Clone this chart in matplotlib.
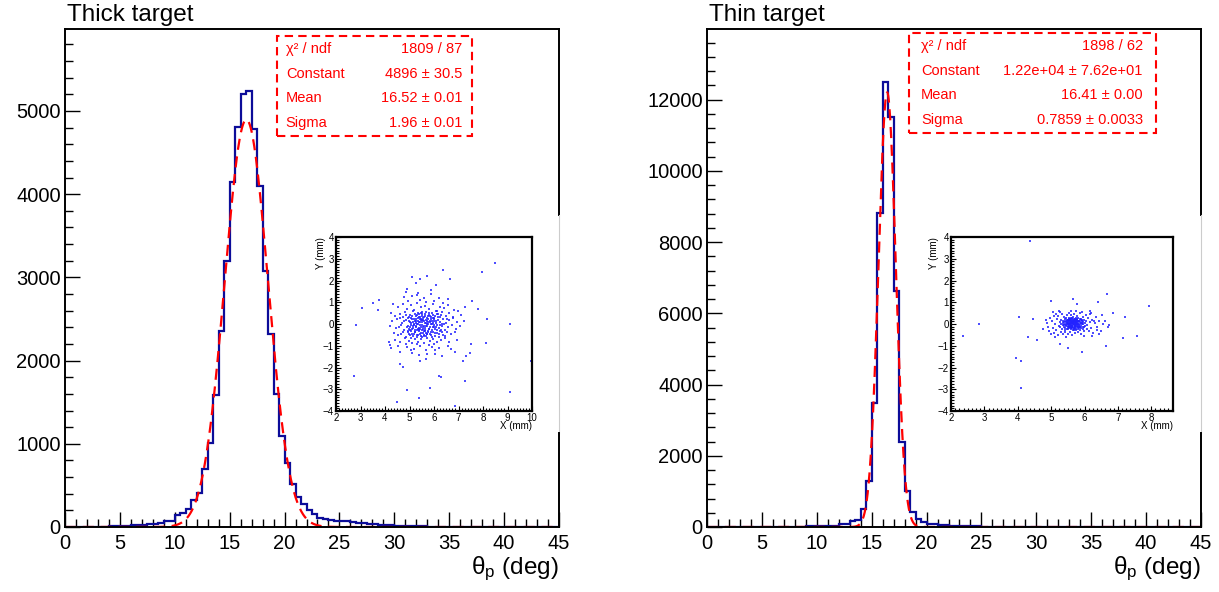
import matplotlib
matplotlib.use('Agg')
import matplotlib.pyplot as plt
import numpy as np
from matplotlib.patches import Rectangle
from matplotlib.ticker import MultipleLocator

plt.rcParams['font.family'] = ['Liberation Sans', 'DejaVu Sans']
plt.rcParams['mathtext.fontset'] = 'custom'
plt.rcParams['mathtext.rm'] = 'Liberation Sans'
plt.rcParams['mathtext.it'] = 'Liberation Sans'

# theta_p histograms, 0.5 deg bins from 0 to 45
edges = np.arange(0, 45.5, 0.5)
thick_counts = [0, 0, 1, 1, 2, 3, 5, 6, 8, 10,
                14, 18, 22, 26, 30, 35, 40, 46, 72, 72,
                145, 173, 217, 325, 414, 695, 1008, 1590, 2353, 3197,
                4149, 4803, 5205, 5245, 4783, 4100, 3076, 2321, 1598, 1088,
                775, 518, 365, 273, 205, 157, 108, 100, 82, 78,
                74, 70, 58, 52, 45, 40, 34, 30, 25, 22,
                18, 15, 12, 10, 8, 7, 5, 4, 3, 3,
                2, 2, 1, 1, 1, 1, 0, 1, 0, 0,
                0, 0, 0, 0, 0, 0, 0, 0, 0, 0]
thin_counts = [0, 0, 0, 0, 0, 1, 1, 1, 2, 2,
               3, 3, 4, 5, 6, 8, 10, 12, 15, 20,
               25, 30, 36, 42, 90, 98, 169, 197, 507, 1295,
               3480, 8809, 12486, 11510, 6632, 2392, 1013, 432, 225, 131,
               90, 80, 60, 50, 40, 35, 28, 22, 18, 15,
               12, 10, 8, 7, 6, 5, 4, 3, 3, 2,
               2, 2, 1, 1, 1, 1, 0, 0, 1, 0,
               0, 0, 0, 0, 0, 0, 0, 0, 0, 0,
               0, 0, 0, 0, 0, 0, 0, 0, 0, 0]

# gaussian fit results
thick_fit = (4896, 16.52, 1.96)
thin_fit = (12200, 16.41, 0.7859)
thick_stats = [("χ² / ndf", "1809 / 87"), ("Constant", "4896 ± 30.5"),
               ("Mean", "16.52 ± 0.01"), ("Sigma", "1.96 ± 0.01")]
thin_stats = [("χ² / ndf", "1898 / 62"), ("Constant", "1.22e+04 ± 7.62e+01"),
              ("Mean", "16.41 ± 0.00"), ("Sigma", "0.7859 ± 0.0033")]

# beam spot X/Y (mm)
thick_xy = [
    (8.48, 2.81), (7.94, 2.38), (6.35, 2.48), (6.67, 2.09), (5.73, 2.22), (5.09, 2.16), (5.41, 2.06),
    (5.25, 1.88), (6.07, 1.79), (4.91, 1.59), (4.84, 1.48), (5.36, 1.42), (5.86, 1.55), (3.06, 0.72),
    (3.52, 0.97), (3.77, 1.09), (3.73, 0.65), (4.33, 0.92), (2.82, -0.04), (7.54, 1.07), (7.27, 0.80),
    (7.80, 0.69), (8.16, 0.22), (9.10, -0.02), (8.14, -0.88), (7.53, -0.91), (7.45, -1.34), (7.30, -1.49),
    (7.17, -1.72), (9.96, -1.69), (6.19, -2.40), (6.27, -2.43), (2.75, -2.37), (7.26, -2.60), (5.84, -2.94),
    (4.91, -3.03), (9.09, -3.12), (5.39, -3.41), (4.47, -3.58), (6.85, -3.79), (4.63, -1.85), (4.73, -1.96),
    (4.17, -0.83), (4.20, -0.98), (4.24, -1.12), (4.61, -1.30), (5.10, -1.34), (5.40, -1.44), (5.70, -1.38),
    (6.03, -1.37), (6.31, -1.49), (6.87, -1.27), (6.68, -1.15), (5.41, -1.72), (5.67, -1.63),
    (4.72, 0.93), (5.05, 0.88), (5.31, 0.97), (5.62, 0.84), (5.95, 0.91), (6.25, 0.78), (6.58, 0.86),
    (4.88, 0.71), (5.18, 0.66), (5.46, 0.77), (5.78, 0.69), (6.08, 0.62), (6.41, 0.72), (6.83, 0.65),
    (4.55, 0.79), (5.69, 1.02), (6.02, 1.05), (5.41, 1.12), (4.95, 1.08), (6.35, 0.98),
    (4.62, 0.48), (4.83, 0.55), (5.02, 0.43), (5.14, 0.58), (5.27, 0.36), (5.36, 0.51), (5.49, 0.44),
    (5.58, 0.32), (5.66, 0.57), (5.81, 0.41), (5.93, 0.52), (6.06, 0.35), (6.18, 0.47), (6.33, 0.56),
    (6.47, 0.38), (6.62, 0.49), (6.79, 0.33), (6.97, 0.58), (4.41, 0.37), (4.97, 0.31), (5.22, 0.47),
    (5.53, 0.55), (5.74, 0.39), (6.11, 0.59), (6.26, 0.31), (4.74, 0.34), (5.43, 0.34), (5.88, 0.33),
    (7.12, 0.42), (4.25, 0.52),
    (4.28, 0.12), (4.51, 0.22), (4.69, 0.05), (4.84, 0.18), (4.93, 0.27), (5.03, 0.09), (5.11, 0.21),
    (5.19, 0.02), (5.26, 0.16), (5.33, 0.26), (5.39, 0.07), (5.45, 0.19), (5.52, 0.11), (5.57, 0.28),
    (5.63, 0.04), (5.69, 0.17), (5.76, 0.24), (5.83, 0.08), (5.91, 0.15), (5.99, 0.27), (6.07, 0.03),
    (6.15, 0.19), (6.24, 0.11), (6.36, 0.23), (6.48, 0.06), (6.61, 0.17), (6.77, 0.26), (6.93, 0.09),
    (7.21, 0.14), (4.62, 0.28), (5.08, 0.29), (5.29, 0.01), (5.48, 0.25), (5.61, 0.14), (5.72, 0.02),
    (5.87, 0.21), (6.02, 0.12), (6.31, 0.02), (5.22, 0.13), (5.42, 0.22), (4.76, 0.14), (6.55, 0.25),
    (5.15, 0.08), (5.95, 0.06), (5.35, 0.14),
    (4.21, -0.08), (4.46, -0.19), (4.66, -0.04), (4.78, -0.26), (4.89, -0.12), (4.99, -0.22), (5.06, -0.03),
    (5.13, -0.17), (5.21, -0.27), (5.28, -0.09), (5.34, -0.21), (5.41, -0.05), (5.47, -0.14), (5.53, -0.28),
    (5.59, -0.07), (5.65, -0.19), (5.71, -0.11), (5.78, -0.25), (5.86, -0.02), (5.94, -0.16), (6.03, -0.24),
    (6.11, -0.06), (6.21, -0.18), (6.32, -0.09), (6.45, -0.27), (6.58, -0.13), (6.74, -0.04), (6.88, -0.21),
    (7.08, -0.11), (4.58, -0.15), (5.02, -0.29), (5.18, -0.06), (5.37, -0.29), (5.56, -0.16), (5.74, -0.01),
    (5.91, -0.29), (6.07, -0.14), (6.27, -0.28), (5.25, -0.13), (5.44, -0.23), (5.63, -0.26), (5.82, -0.12),
    (4.95, -0.07), (6.39, -0.02), (5.12, -0.24),
    (4.36, -0.41), (4.55, -0.52), (4.73, -0.36), (4.86, -0.58), (4.97, -0.44), (5.08, -0.33), (5.16, -0.55),
    (5.24, -0.39), (5.31, -0.49), (5.39, -0.34), (5.46, -0.57), (5.54, -0.42), (5.62, -0.31), (5.69, -0.53),
    (5.77, -0.38), (5.85, -0.47), (5.96, -0.35), (6.05, -0.56), (6.14, -0.43), (6.26, -0.33), (6.37, -0.51),
    (6.52, -0.39), (6.68, -0.48), (6.86, -0.36), (4.66, -0.46), (5.02, -0.51), (5.29, -0.59), (5.58, -0.49),
    (5.92, -0.58), (6.19, -0.59), (5.43, -0.45), (5.73, -0.44), (6.44, -0.57), (4.92, -0.33), (5.12, -0.45),
    (4.42, -0.72), (4.63, -0.84), (4.81, -0.66), (4.99, -0.78), (5.11, -0.89), (5.23, -0.68), (5.35, -0.81),
    (5.47, -0.71), (5.59, -0.87), (5.71, -0.64), (5.84, -0.79), (5.97, -0.69), (6.12, -0.85), (6.28, -0.74),
    (6.46, -0.66), (6.63, -0.82), (6.92, -0.73), (5.05, -0.63), (5.52, -0.61), (6.02, -0.91), (5.29, -0.93),
    (5.78, -0.95), (4.87, -0.91),
    (4.52, -1.02), (4.91, -1.08), (5.18, -1.14), (5.44, -1.03), (5.66, -1.18), (5.93, -1.06), (6.22, -1.12),
    (6.58, -1.01), (5.05, -1.19), (6.05, -1.21),
    (5.12, 1.28), (5.58, 1.21), (5.89, 1.36), (6.21, 1.19), (4.79, 1.22), (6.58, 1.16), (5.32, 1.35),
    (5.05, 0.05), (5.14, -0.10), (5.20, 0.25), (5.24, -0.35), (5.30, 0.42), (5.33, -0.02), (5.37, 0.31),
    (5.40, -0.18), (5.44, 0.08), (5.47, -0.40), (5.50, 0.35), (5.53, -0.06), (5.56, 0.18), (5.60, -0.33),
    (5.64, 0.45), (5.67, -0.10), (5.70, 0.28), (5.73, -0.47), (5.77, 0.10), (5.80, -0.22), (5.84, 0.36),
    (5.87, -0.36), (5.90, 0.02), (5.94, 0.40), (5.98, -0.12), (6.01, 0.22), (6.05, -0.42), (6.09, 0.12),
    (6.13, -0.28), (6.17, 0.32), (6.23, -0.03), (6.29, 0.40), (6.34, -0.36), (5.10, 0.38), (5.17, -0.44),
    (5.27, 0.05), (5.36, -0.52), (5.46, 0.50), (5.58, -0.55), (5.68, 0.05), (5.79, 0.52), (5.89, -0.50),
    (6.00, -0.03), (6.12, 0.47), (4.98, 0.15), (4.92, -0.38), (4.86, 0.40), (5.02, -0.15), (5.31, -0.27),
    (5.51, 0.20), (5.62, 0.38), (5.75, -0.30), (5.96, 0.28), (6.20, -0.48), (5.39, 0.46), (5.66, -0.42),
    (5.85, 0.15), (5.54, -0.22), (5.28, 0.22), (5.71, 0.16),
]
thin_xy = [
    (4.38, 3.83), (5.66, 1.15), (5.01, 1.06), (6.66, 1.38), (6.40, 1.01), (5.76, 0.92), (7.93, 0.83),
    (2.83, -0.02), (2.35, -0.54), (4.04, 0.31), (4.45, 0.23), (4.32, -0.60), (4.58, -0.74), (5.26, -0.94),
    (5.51, -1.12), (5.91, -1.30), (6.63, -1.00), (7.20, 0.30), (7.16, -0.66), (7.58, -0.57), (6.85, 0.52),
    (6.73, -0.04), (6.69, -0.15), (3.95, -1.56), (4.11, -1.72), (4.11, -2.95), (6.51, 0.42), (6.27, 0.14),
    (6.37, -0.27), (6.21, -0.57), (6.16, 0.59), (5.91, 0.57), (4.77, -0.24), (4.87, 0.05), (4.94, -0.30),
    (5.30, 0.02), (5.35, 0.15), (5.38, -0.12), (5.41, 0.24), (5.43, -0.05), (5.45, 0.09), (5.47, -0.21),
    (5.49, 0.18), (5.51, 0.01), (5.52, -0.14), (5.54, 0.27), (5.55, 0.06), (5.57, -0.08), (5.58, 0.13),
    (5.59, -0.25), (5.61, 0.03), (5.62, 0.21), (5.63, -0.11), (5.64, 0.08), (5.66, -0.02), (5.67, 0.16),
    (5.68, -0.18), (5.69, 0.04), (5.71, 0.25), (5.72, -0.07), (5.73, 0.11), (5.75, -0.22), (5.76, 0.01),
    (5.78, 0.17), (5.79, -0.12), (5.81, 0.07), (5.83, -0.03), (5.85, 0.22), (5.86, -0.16), (5.88, 0.05),
    (5.90, -0.09), (5.92, 0.14), (5.94, -0.24), (5.96, 0.02), (5.98, 0.19), (5.33, -0.22), (5.36, 0.06),
    (5.40, -0.29), (5.44, 0.29), (5.48, -0.01), (5.50, 0.11), (5.53, -0.19), (5.56, 0.19), (5.60, -0.04),
    (5.63, 0.27), (5.65, -0.27), (5.68, 0.09), (5.70, -0.13), (5.74, 0.05), (5.77, -0.05), (5.80, 0.28),
    (5.82, -0.20), (5.84, 0.12), (5.87, -0.27), (5.89, 0.24), (5.91, -0.01), (5.95, 0.09), (5.97, -0.15),
    (6.00, 0.04), (6.02, -0.08), (5.46, 0.14), (5.52, 0.23), (5.58, -0.16), (5.61, 0.10), (5.64, -0.06),
    (5.66, 0.30), (5.70, 0.14), (5.73, -0.29), (5.76, 0.20), (5.79, 0.02), (5.55, -0.02), (5.59, 0.06),
    (5.62, -0.13), (5.67, 0.02), (5.71, -0.03), (5.74, 0.17), (5.39, 0.11), (5.42, -0.17), (5.51, -0.09),
    (5.57, 0.16), (5.69, -0.23), (5.78, -0.14), (5.85, 0.00), (5.93, 0.18), (5.36, -0.04), (5.31, 0.20),
    (5.28, -0.15), (5.26, 0.09), (6.04, 0.13), (6.06, -0.21), (5.60, 0.26), (5.65, 0.12), (5.72, 0.07),
    (5.54, 0.00), (5.49, 0.04),
    (5.02, 0.12), (5.05, -0.18), (5.08, 0.35), (5.10, -0.41), (5.12, 0.02), (5.14, 0.46), (5.16, -0.28),
    (5.18, 0.21), (5.20, -0.52), (5.22, 0.38), (5.24, -0.07), (5.27, 0.55), (5.29, -0.37), (5.32, 0.44),
    (5.34, -0.47), (5.37, 0.33), (5.40, -0.39), (5.46, 0.43), (5.50, -0.44), (5.53, 0.51), (5.56, -0.36),
    (5.60, 0.40), (5.63, -0.49), (5.68, 0.47), (5.72, -0.41), (5.77, 0.36), (5.81, -0.38), (5.86, 0.49),
    (5.90, -0.46), (5.95, 0.34), (5.99, -0.33), (6.03, 0.41), (6.08, -0.05), (6.10, 0.27), (6.12, -0.31),
    (6.15, 0.09), (6.18, -0.17), (6.22, 0.18), (6.26, -0.42), (6.30, 0.06), (6.34, 0.31), (6.38, -0.12),
    (6.44, 0.14), (6.49, -0.34), (6.55, 0.02), (5.00, -0.45), (4.98, 0.28), (5.06, 0.55), (5.25, 0.60),
    (5.44, -0.58), (5.75, 0.58), (5.97, -0.56), (6.20, 0.51), (5.13, -0.60), (6.15, 0.48), (4.90, -0.12),
    (4.85, 0.18), (6.60, 0.15), (6.42, -0.46), (5.58, 0.62),
    (5.42, 0.02), (5.44, -0.10), (5.46, 0.20), (5.50, -0.25), (5.53, 0.12), (5.56, -0.12), (5.58, 0.24),
    (5.60, -0.20), (5.62, 0.05), (5.64, 0.18), (5.66, -0.14), (5.68, 0.25), (5.70, 0.00), (5.72, -0.18),
    (5.74, 0.28), (5.76, -0.10), (5.78, 0.08), (5.80, -0.24), (5.82, 0.16), (5.84, -0.08), (5.86, 0.10),
    (5.88, -0.18), (5.90, 0.20), (5.65, 0.04), (5.61, -0.08), (5.57, 0.03), (5.69, 0.12), (5.73, -0.02),
    (5.53, 0.18), (5.49, -0.16), (5.47, 0.06), (5.59, 0.15), (5.63, -0.20), (5.77, 0.22), (5.81, 0.00),
    (5.71, 0.20), (5.67, -0.26), (5.55, 0.22), (5.83, -0.16), (5.40, 0.16), (5.38, -0.06), (5.92, 0.05),
    (5.94, -0.12), (5.62, 0.12), (5.66, 0.08), (5.70, -0.08), (5.58, -0.04), (5.74, 0.10), (5.52, -0.04),
    (5.80, 0.12),
]

W, H = 1219, 592
fig = plt.figure(figsize=(W / 100, H / 100), dpi=100)

BLUE = '#0c0c99'
RED = '#ff0000'


def fpos(x0, y0, x1, y1):
    # pixel box -> figure fraction
    return [x0 / W, 1 - y1 / H, (x1 - x0) / W, (y1 - y0) / H]


def panel(left_px, counts, fit, ymax, ymajor, yminor, title, stats, box, rows, xy, inset_px, inset_xmax):
    ax = fig.add_axes(fpos(left_px, 29, left_px + 494, 527))
    ax.stairs(counts, edges, color=BLUE, lw=1.6, zorder=2.2)
    xs = np.linspace(0, 45, 2000)
    A, mu, sg = fit
    ax.plot(xs, A * np.exp(-0.5 * ((xs - mu) / sg) ** 2), color=RED, lw=1.6,
            ls=(0, (5, 3)), zorder=2.3)
    ax.set_xlim(0, 45)
    ax.set_ylim(0, ymax)
    ax.xaxis.set_major_locator(MultipleLocator(5))
    ax.xaxis.set_minor_locator(MultipleLocator(1))
    ax.yaxis.set_major_locator(MultipleLocator(ymajor))
    ax.yaxis.set_minor_locator(MultipleLocator(yminor))
    ax.tick_params(which='both', direction='in', top=False, right=False, width=1.0, labelsize=14.5)
    ax.tick_params(which='major', length=11)
    ax.tick_params(which='minor', length=5.5)
    ax.tick_params(axis='x', pad=5)
    ax.tick_params(axis='y', pad=3)
    for s in ['left', 'bottom', 'top']:
        ax.spines[s].set_linewidth(1.4)
    ax.spines['right'].set_visible(False)
    # right frame edge, partly hidden behind the inset pad
    ax.plot([1, 1], [1, 0.6265], transform=ax.transAxes, color='black', lw=1.4, clip_on=False, zorder=6)
    ax.plot([1, 1], [0.6265, 0.1888], transform=ax.transAxes, color='#cccccc', lw=0.8, clip_on=False, zorder=6)
    ax.plot([1, 1], [0.1888, 0], transform=ax.transAxes, color='black', lw=1.4, clip_on=False, zorder=6)

    ax.set_xlabel(r'θ$_{\mathregular{p}}$ (deg)', fontsize=17.5, ha='right', va='baseline')
    ax.xaxis.set_label_coords(1.0, -0.094)
    fig.text((left_px + 2) / W, 1 - 21 / H, title, fontsize=17.5, ha='left', va='baseline')

    # fit statistics box
    bx0, by0, bx1, by1 = box
    ax.add_patch(Rectangle((bx0, by0), bx1 - bx0, by1 - by0, transform=ax.transAxes,
                           facecolor='white', edgecolor=RED, lw=1.5, ls=(0, (4, 2.5)),
                           zorder=7, clip_on=False))
    lx, rx, ytop, dy = rows
    for i, (name, val) in enumerate(stats):
        yy = ytop - i * dy
        ax.text(lx, yy, name, transform=ax.transAxes, color=RED, fontsize=10.5,
                ha='left', va='center', zorder=8)
        ax.text(rx, yy, val, transform=ax.transAxes, color=RED, fontsize=10.5,
                ha='right', va='center', zorder=8)

    # beam spot inset
    ins = fig.add_axes(fpos(*inset_px))
    ins.set_zorder(10)
    px, py = zip(*xy)
    ins.scatter(px, py, s=2.0, marker='s', color='#2222ff', linewidths=0, alpha=0.8)
    ins.set_xlim(2, inset_xmax)
    ins.set_ylim(-4, 4)
    ins.xaxis.set_major_locator(MultipleLocator(1))
    ins.xaxis.set_minor_locator(MultipleLocator(0.125))
    ins.yaxis.set_major_locator(MultipleLocator(1))
    ins.yaxis.set_minor_locator(MultipleLocator(0.125))
    ins.tick_params(which='both', direction='in', top=False, right=False, width=0.8, labelsize=7)
    ins.tick_params(which='major', length=3.5, pad=1.5)
    ins.tick_params(which='minor', length=2)
    for s in ins.spines.values():
        s.set_linewidth(1.6)
    ins.set_xlabel('X (mm)', fontsize=7, ha='right', va='center')
    ins.xaxis.set_label_coords(1.0, -0.085)
    ins.set_ylabel('Y (mm)', fontsize=7, ha='right', va='center')
    ins.yaxis.set_label_coords(-0.075, 1.0)
    return ax


panel(65, thick_counts, thick_fit, 5985, 1000, 200, 'Thick target', thick_stats,
      (0.429, 0.785, 0.824, 0.986), (0.447, 0.804, 0.960, 0.0497),
      thick_xy, (336, 237, 532, 411), 10)
panel(707, thin_counts, thin_fit, 13980, 2000, 400, 'Thin target', thin_stats,
      (0.409, 0.7906, 0.909, 0.991), (0.433, 0.882, 0.966, 0.0497),
      thin_xy, (951, 237, 1173, 411), 8.65)

fig.savefig('out.png', dpi=100)
